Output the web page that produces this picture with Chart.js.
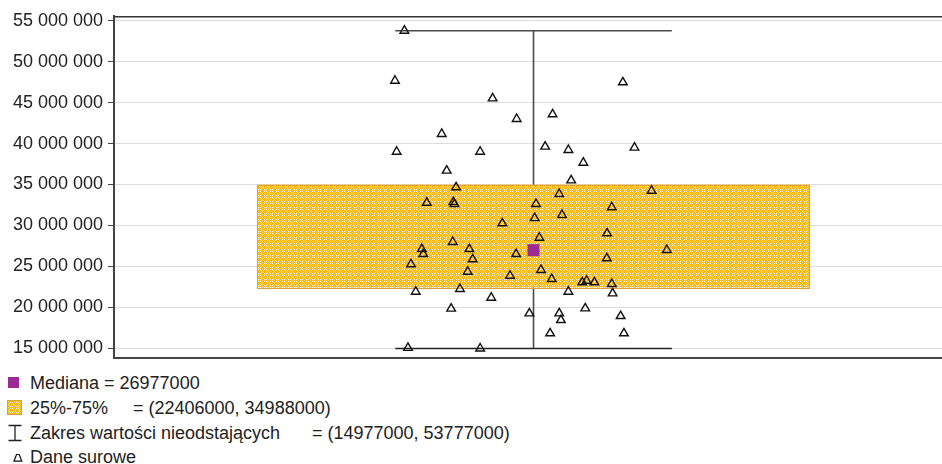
<!DOCTYPE html>
<html>
<head>
<meta charset="utf-8">
<script src="https://cdn.jsdelivr.net/npm/chart.js@4.4.1/dist/chart.umd.min.js"></script>
<style>
  html, body { margin: 0; padding: 0; background: #fff; }
  #wrap { position: relative; width: 942px; height: 464px; overflow: hidden;
          font-family: "Liberation Sans", Arial, sans-serif; color: #222; }
  #plot { position: absolute; left: 0; top: 0; }
  .row { position: absolute; left: 0; height: 24px; width: 942px; font-size: 18px; line-height: 24px; white-space: pre; }
  .row .txt { position: absolute; left: 30px; top: 0; }
  .row .val { position: absolute; top: 0; }
  .icon { position: absolute; }
</style>
</head>
<body>
<div id="wrap">
  <canvas id="plot" width="942" height="360"></canvas>
  <div class="row" style="top:371px">
    <div class="icon" style="left:8px;top:6px;width:11px;height:11px;background:#9A2A96"></div>
    <span class="txt" id="lgMedian"></span>
  </div>
  <div class="row" style="top:396px">
    <canvas class="icon" id="lgPattern" width="15" height="15" style="left:7px;top:4px"></canvas>
    <span class="txt">25%-75%</span><span class="val" id="lgBox" style="left:133px"></span>
  </div>
  <div class="row" style="top:421px">
    <svg class="icon" width="16" height="18" style="left:7px;top:3px">
      <path d="M1.5 1.5H14.5M8 1.5V16.5M1.5 16.5H14.5" stroke="#222" stroke-width="1.3" fill="none"/>
    </svg>
    <span class="txt">Zakres wartości nieodstających</span><span class="val" id="lgRange" style="left:312px"></span>
  </div>
  <div class="row" style="top:445px">
    <svg class="icon" width="10" height="10" style="left:13px;top:8px">
      <path d="M3.5 1.5H6.2L8.8 8.2H1Z" stroke="#111" stroke-width="1.2" fill="none"/>
    </svg>
    <span class="txt">Dane surowe</span>
  </div>
</div>
<script>
// Summary statistics
const medianValue = 26977000;
const quartiles = [22406000, 34988000];
const whiskerRange = [14977000, 53777000];

// Raw observations and their horizontal jitter (box half-width = 1)
const rawValues = [
  53777000, 47670000, 45520000, 43000000, 41170000, 39000000, 39000000, 36690000,
  47480000, 43570000, 39620000, 39210000, 39500000, 37660000, 35500000, 34660000,
  32780000, 32850000, 32600000, 30260000, 30900000, 27980000, 27120000, 26510000,
  27120000, 25870000, 25260000, 26510000, 24350000, 23860000, 21910000, 22240000,
  21180000, 19840000, 19270000, 15050000, 14977000, 33840000, 34240000, 32620000,
  32220000, 31280000, 29040000, 28500000, 27000000, 25990000, 24560000, 23460000,
  23060000, 23250000, 23060000, 22850000, 21710000, 21910000, 19880000, 19270000,
  18450000, 18940000, 16830000, 16830000
];
const rawJitter = [
  -0.467, -0.501, -0.148, -0.061, -0.332, -0.495, -0.193, -0.314,
   0.323,  0.069,  0.042,  0.126,  0.365,  0.180,  0.136, -0.280,
  -0.386, -0.290, -0.286, -0.113,  0.004, -0.292, -0.404, -0.399,
  -0.232, -0.220, -0.443, -0.063, -0.238, -0.085, -0.426, -0.266,
  -0.153, -0.298, -0.015, -0.454, -0.193,  0.093,  0.427,  0.009,
   0.283,  0.103,  0.266,  0.021,  0.482,  0.265,  0.027,  0.066,
   0.176,  0.192,  0.220,  0.283,  0.286,  0.126,  0.187,  0.093,
   0.099,  0.315,  0.060,  0.327
];

// Axis ticks
const yTicks = [15000000, 20000000, 25000000, 30000000, 35000000, 40000000, 45000000, 50000000, 55000000];
const capHalf = 0.5;   // whisker cap half-width
const boxHalf = 1;     // box half-width

const fmt = v => String(v).replace(/\B(?=(\d{3})+(?!\d))/g, ' ');

// Dotted gold fill for the interquartile box: gold discs on a white checker
function makePattern(ctx) {
  const t = document.createElement('canvas');
  t.width = 6; t.height = 6;
  const g = t.getContext('2d');
  g.fillStyle = '#FFFFFF'; g.fillRect(0, 0, 6, 6);
  g.fillStyle = '#F7B610';
  [[0, 0], [3, 3]].forEach(([ox, oy]) => {
    g.fillRect(ox, oy, 3, 3);
  });
  [[3, 0], [0, 3]].forEach(([ox, oy]) => {
    g.fillRect(ox, oy + 1, 3, 1); g.fillRect(ox + 1, oy, 1, 3);
  });
  g.fillStyle = '#FFD95A';
  [[1, 1], [4, 4], [4, 1], [1, 4]].forEach(([x, y]) => g.fillRect(x, y, 1, 1));
  return ctx.createPattern(t, 'repeat');
}

const canvas = document.getElementById('plot');
const ctx = canvas.getContext('2d');
const boxPattern = makePattern(ctx);

// Legend
document.getElementById('lgMedian').textContent = 'Mediana = ' + medianValue;
document.getElementById('lgBox').textContent = '= (' + quartiles[0] + ', ' + quartiles[1] + ')';
document.getElementById('lgRange').textContent = '= (' + whiskerRange[0] + ', ' + whiskerRange[1] + ')';
(function () {
  const c = document.getElementById('lgPattern');
  const g = c.getContext('2d');
  g.fillStyle = makePattern(g);
  g.fillRect(0, 0, 15, 15);
  g.strokeStyle = '#E0A030';
  g.strokeRect(0.5, 0.5, 14, 14);
})();

const MEDIAN_INDEX = 1;

const boxPlugin = {
  id: 'boxAndFrame',
  beforeDatasetDraw(chart, args) {
    if (args.index !== MEDIAN_INDEX) return;
    const { x, y } = chart.scales;
    const c = chart.ctx;
    const l = x.getPixelForValue(-boxHalf), r = x.getPixelForValue(boxHalf);
    const t = y.getPixelForValue(quartiles[1]), b = y.getPixelForValue(quartiles[0]);
    c.save();
    c.fillStyle = boxPattern;
    c.fillRect(l, t, r - l, b - t);
    c.strokeStyle = '#DFA036';
    c.lineWidth = 1;
    c.strokeRect(Math.round(l) + 0.5, Math.round(t) + 0.5, Math.round(r - l) - 1, Math.round(b - t));
    c.restore();
  },
  afterDraw(chart) {
    const a = chart.chartArea;
    const c = chart.ctx;
    c.save();
    c.strokeStyle = '#333';
    c.lineWidth = 1.5;
    c.beginPath();
    c.moveTo(a.left, a.top + 0.75); c.lineTo(a.right, a.top + 0.75);
    c.stroke();
    c.lineWidth = 2;
    c.strokeStyle = '#444';
    c.beginPath();
    c.moveTo(a.left, a.bottom); c.lineTo(a.right, a.bottom);
    c.stroke();
    c.restore();
  }
};

const whiskerStyle = {
  type: 'line', borderColor: '#4a4a4a', borderWidth: 1.6, pointRadius: 0,
  fill: false, order: 3, tension: 0
};

new Chart(ctx, {
  type: 'scatter',
  data: {
    datasets: [
      {
        label: 'Dane surowe',
        data: rawValues.map((v, i) => ({ x: rawJitter[i], y: v })),
        pointStyle: 'triangle', pointRadius: 5,
        backgroundColor: 'rgba(0,0,0,0)', borderColor: '#111', borderWidth: 1.4,
        order: 0
      },
      {
        label: 'Mediana',
        data: [{ x: 0, y: medianValue }],
        pointStyle: 'rect', pointRadius: 8.5,
        backgroundColor: '#9A2A96', borderColor: '#9A2A96', borderWidth: 0,
        order: 1
      },
      Object.assign({ label: 'stem', data: [{ x: 0, y: whiskerRange[0] }, { x: 0, y: whiskerRange[1] }] }, whiskerStyle),
      Object.assign({ label: 'capTop', data: [{ x: -capHalf, y: whiskerRange[1] }, { x: capHalf, y: whiskerRange[1] }] }, whiskerStyle),
      Object.assign({ label: 'capBottom', data: [{ x: -capHalf, y: whiskerRange[0] }, { x: capHalf, y: whiskerRange[0] }] }, whiskerStyle, { borderColor: '#222' })
    ]
  },
  options: {
    responsive: false,
    animation: false,
    devicePixelRatio: 1,
    layout: { autoPadding: false, padding: { top: 16, bottom: 2, left: 0, right: 0 } },
    plugins: { legend: { display: false }, tooltip: { enabled: false } },
    scales: {
      x: { type: 'linear', display: false, min: -1.517, max: 1.477 },
      y: {
        type: 'linear',
        min: 13816000, max: 55574000,
        afterBuildTicks: s => { s.ticks = yTicks.map(v => ({ value: v })); },
        afterFit: s => { s.width = 114; s.paddingTop = 0; s.paddingBottom = 0; },
        ticks: {
          callback: v => fmt(v),
          color: '#222',
          font: { family: '"Liberation Sans", Arial, sans-serif', size: 18 },
          padding: 5
        },
        grid: { color: '#dcdcdc', lineWidth: 1, drawTicks: true, tickLength: 6, tickColor: '#444', tickWidth: 1 },
        border: { display: true, color: '#444', width: 2 }
      }
    }
  },
  plugins: [boxPlugin]
});
</script>
</body>
</html>
